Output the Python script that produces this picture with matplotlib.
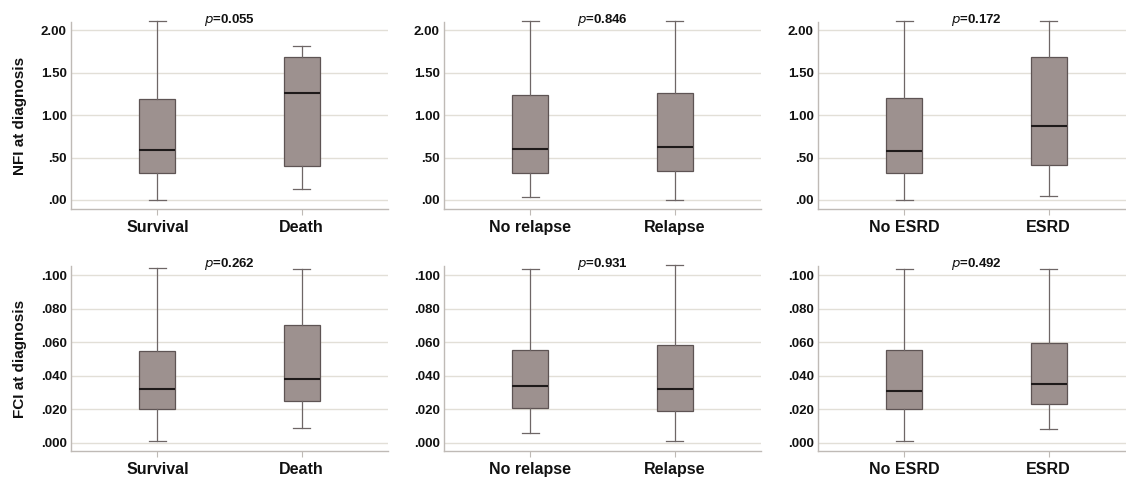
import matplotlib
matplotlib.use("Agg")
import matplotlib.pyplot as plt
from matplotlib.ticker import FuncFormatter
from matplotlib.transforms import offset_copy

plt.rcParams['font.family'] = ['Liberation Sans', 'DejaVu Sans']

# ---- data ----
group_labels = [["Survival", "Death"], ["No relapse", "Relapse"], ["No ESRD", "ESRD"]]
p_nfi = ["0.055", "0.846", "0.172"]
p_fci = ["0.262", "0.931", "0.492"]

# NFI at diagnosis: [whislo, q1, med, q3, whishi] for each group
nfi_stats = [
    [[0.000, 0.320, 0.589, 1.194, 2.107], [0.130, 0.403, 1.257, 1.688, 1.814]],
    [[0.036, 0.320, 0.601, 1.241, 2.107], [0.000, 0.340, 0.628, 1.265, 2.107]],
    [[0.000, 0.320, 0.581, 1.198, 2.107], [0.043, 0.415, 0.877, 1.688, 2.107]],
]
# FCI at diagnosis
fci_stats = [
    [[0.0010, 0.0199, 0.0321, 0.0550, 0.1042], [0.0086, 0.0247, 0.0378, 0.0705, 0.1040]],
    [[0.0060, 0.0207, 0.0338, 0.0555, 0.1036], [0.0012, 0.0189, 0.0318, 0.0584, 0.1062]],
    [[0.0010, 0.0198, 0.0311, 0.0551, 0.1040], [0.0084, 0.0228, 0.0353, 0.0597, 0.1040]],
]
nfi_ticks = [0.0, 0.5, 1.0, 1.5, 2.0]
fci_ticks = [0.0, 0.02, 0.04, 0.06, 0.08, 0.10]

BOX_FILL = "#9d918f"
BOX_EDGE = "#5e5454"
WHISK = "#6e6666"
GRID = "#e2dfd7"
SPINE = "#bfbab6"

fig = plt.figure(figsize=(11.26, 4.8), dpi=100)

lefts = [71 / 1126, 444 / 1126, 818 / 1126]
width = 317 / 1126
rows = [
    dict(bottom=1 - 209 / 480, height=(209 - 22) / 480, stats=nfi_stats, p=p_nfi,
         ticks=nfi_ticks, ylim=(-0.107, 2.098), ylabel="NFI at diagnosis", dec=2),
    dict(bottom=1 - 451 / 480, height=(451 - 266) / 480, stats=fci_stats, p=p_fci,
         ticks=fci_ticks, ylim=(-0.005, 0.1055), ylabel="FCI at diagnosis", dec=3),
]


def make_fmt(dec):
    def f(v, pos):
        s = f"{v:.{dec}f}"
        if s.startswith("0"):
            s = s[1:]
        return s
    return f


for r in rows:
    for i in range(3):
        ax = fig.add_axes([lefts[i], r["bottom"], width, r["height"]])
        stats = []
        for lab, s in zip(group_labels[i], r["stats"][i]):
            stats.append(dict(label=lab, whislo=s[0], q1=s[1], med=s[2], q3=s[3], whishi=s[4], fliers=[]))
        ax.bxp(stats, positions=[0, 1], widths=0.25, capwidths=0.12, patch_artist=True,
               showfliers=False,
               boxprops=dict(facecolor=BOX_FILL, edgecolor=BOX_EDGE, linewidth=0.9),
               medianprops=dict(color="#1e1a1a", linewidth=1.5),
               whiskerprops=dict(color=WHISK, linewidth=0.9),
               capprops=dict(color=WHISK, linewidth=0.9),
               zorder=3)
        for art in ax.get_children():
            try:
                art.set_clip_on(False)
            except Exception:
                pass
        ax.set_xlim(-0.6, 1.6)
        ax.set_ylim(*r["ylim"])
        ax.set_yticks(r["ticks"])
        ax.yaxis.set_major_formatter(FuncFormatter(make_fmt(r["dec"])))
        ax.yaxis.grid(True, color=GRID, linewidth=1.0, zorder=0)
        ax.set_axisbelow(True)
        for sp in ["top", "right"]:
            ax.spines[sp].set_visible(False)
        for sp in ["left", "bottom"]:
            ax.spines[sp].set_color(SPINE)
            ax.spines[sp].set_linewidth(1.0)
        ax.tick_params(axis="y", length=0, pad=3, labelsize=9.5, labelcolor="#111111")
        ax.tick_params(axis="x", length=4, color=SPINE, pad=4, labelsize=11.5, labelcolor="#111111")
        for t in ax.get_yticklabels() + ax.get_xticklabels():
            t.set_fontweight("bold")
        ax.set_xticks([0, 1])
        ax.set_xticklabels(group_labels[i], fontweight="bold")
        if i == 0:
            ax.set_ylabel(r["ylabel"], fontsize=11, fontweight="bold", color="#111111")
            ax.yaxis.set_label_coords(-44 / 317, 0.5)
        tr = offset_copy(ax.transAxes, fig=fig, x=0, y=-1.0, units="points")
        ax.text(0.5, 1.0, "$\\it{p}$=" + r["p"][i], transform=tr,
                ha="center", va="baseline", fontsize=9.5, fontweight="bold", color="#111111")

fig.savefig("out.png", dpi=100)
